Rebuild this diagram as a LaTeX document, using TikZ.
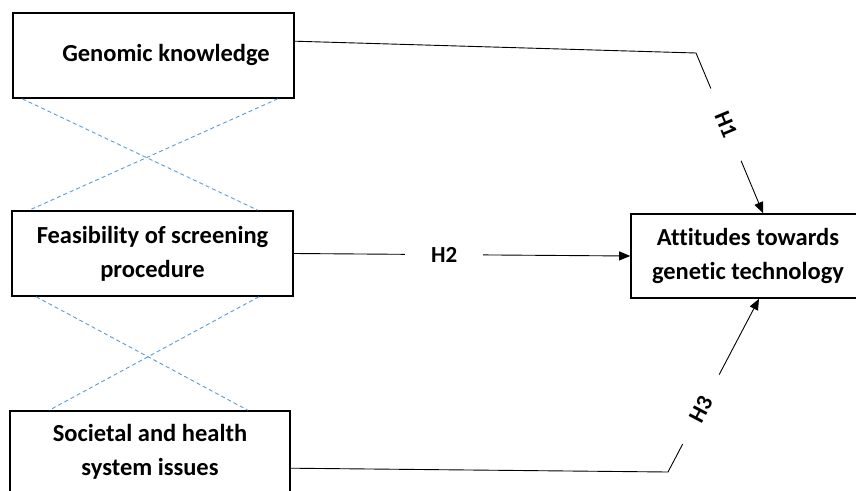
\documentclass[tikz,border=0pt]{standalone}
\usepackage{fontspec}
\setmainfont[Ligatures=NoCommon]{Carlito}
\usetikzlibrary{arrows.meta}
\definecolor{corrblue}{HTML}{5B9BD5}
\begin{document}
\begin{tikzpicture}[x=1pt,y=-1pt,
  box/.style={draw=black, line width=1.6pt, rectangle, inner sep=0pt,
    font=\bfseries\fontsize{24.5}{34}\selectfont, align=center},
  boxtext/.style={font=\bfseries\fontsize{24.5}{34}\selectfont, align=center, inner sep=0pt},
  conn/.style={draw=black, line width=0.9pt},
  arr/.style={conn, -{Triangle[length=11pt,width=9pt]}},
  hyp/.style={fill=white, font=\bfseries\fontsize{23}{27}\selectfont,
    inner xsep=26pt, inner ysep=3pt},
  corr/.style={draw=corrblue, line width=0.9pt, dash pattern=on 4pt off 3pt}]
\useasboundingbox (0,0) rectangle (856,490);
\clip (0,0) rectangle (856,490);

% boxes
\node[box, minimum width=281pt, minimum height=85pt] (g) at (153.5,55.5) {};
\node[boxtext] (gt) at (166,55) {Genomic knowledge};
\node[box, minimum width=281pt, minimum height=85pt] (f) at (152.5,253.5)
  {Feasibility of screening\\procedure};
\node[box, minimum width=280pt, minimum height=82pt] (s) at (150,452)
  {Societal and health\\system issues};
\node[box, minimum width=234pt, minimum height=84pt] (a) at (748,256)
  {Attitudes towards\\genetic technology};

% correlation (dashed) lines
\draw[corr] ([xshift=10pt]g.south west) -- ([xshift=-36pt]f.north east);
\draw[corr] ([xshift=-17pt]g.south east) -- ([xshift=18pt]f.north west);
\draw[corr] ([xshift=25pt]f.south west) -- ([xshift=-43pt]s.north east);
\draw[corr] ([xshift=-35pt]f.south east) -- ([xshift=40pt]s.north west);

% hypotheses
\coordinate (b1) at (696,53);
\coordinate (b3) at (668,472);
\draw[arr] ([yshift=-29pt]g.north east) -- (b1)
  -- node[hyp, sloped, pos=0.447] (h1) {H1} ([xshift=15pt]a.north);
\draw[arr] (f.east) -- node[hyp, pos=0.447] (h2) {H2} (a.west);
\draw[arr] ([yshift=-58pt]s.north east) -- (b3)
  -- node[hyp, sloped, pos=0.362] (h3) {H3} ([xshift=11pt]a.south);
\end{tikzpicture}
\end{document}
